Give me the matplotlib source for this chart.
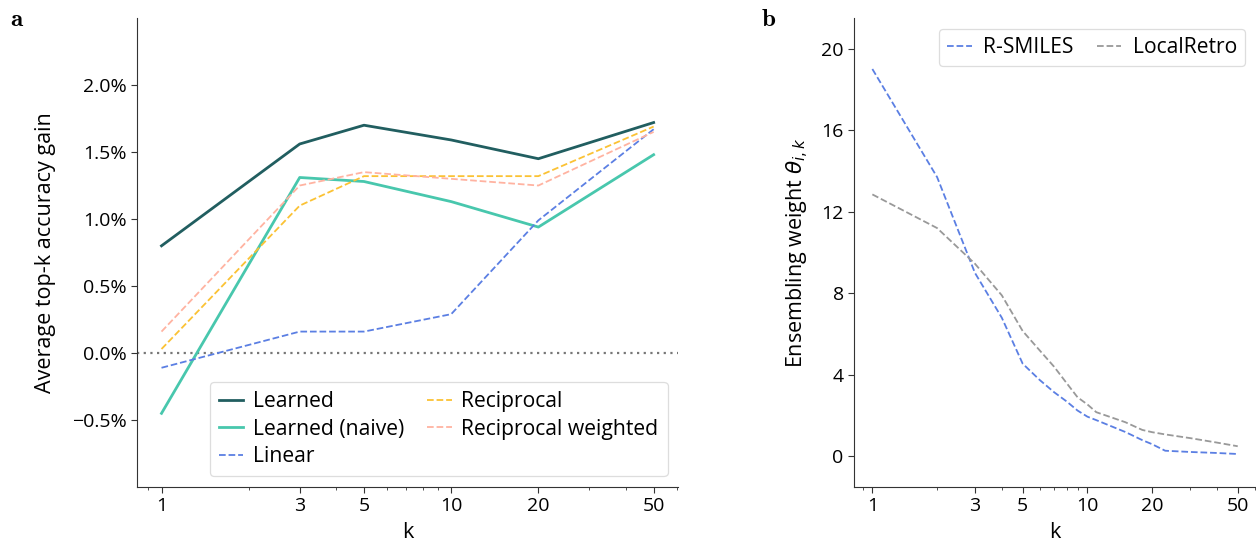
import matplotlib
matplotlib.use("Agg")
import matplotlib.pyplot as plt
from matplotlib.ticker import PercentFormatter, NullFormatter, LogLocator

plt.rcParams['font.family'] = ['Open Sans', 'DejaVu Sans']
plt.rcParams['mathtext.fontset'] = 'dejavusans'

# ---- panel a data ----
k_a = [1, 3, 5, 10, 20, 50]
learned = [0.80, 1.56, 1.70, 1.59, 1.45, 1.72]
learned_naive = [-0.45, 1.31, 1.28, 1.13, 0.94, 1.48]
linear = [-0.11, 0.16, 0.16, 0.29, 0.99, 1.67]
reciprocal = [0.03, 1.10, 1.32, 1.32, 1.32, 1.69]
reciprocal_w = [0.16, 1.25, 1.35, 1.30, 1.25, 1.65]

# ---- panel b data ----
k_b = [1, 2, 3, 4, 5, 6, 7, 8, 9, 10, 11, 15, 18, 20, 23, 30, 40, 50]
rsmiles = [19.0, 13.7, 9.0, 6.8, 4.55, 3.75, 3.15, 2.7, 2.25, 1.95, 1.78, 1.2, 0.8, 0.6, 0.28, 0.22, 0.17, 0.12]
localretro = [12.85, 11.2, 9.45, 7.9, 6.15, 5.2, 4.4, 3.6, 2.9, 2.55, 2.17, 1.68, 1.3, 1.19, 1.08, 0.9, 0.68, 0.5]

xticks = [1, 3, 5, 10, 20, 50]
xticklabels = ['1', '3', '5', '10', '20', '50']
yticks_a = [-0.5, 0.0, 0.5, 1.0, 1.5, 2.0]
yticks_b = [0, 4, 8, 12, 16, 20]

FS_TICK = 14
FS_LAB = 15.5
FS_LEG = 15.2
fig = plt.figure(figsize=(12.56, 5.46), dpi=100)
ax1 = fig.add_axes([0.109, 0.108, 0.431, 0.859])
ax2 = fig.add_axes([0.680, 0.108, 0.320, 0.859])

c_learned = '#215e60'
c_naive = '#48c7ad'
c_linear = '#5b7fe3'
c_recip = '#fbc234'
c_recipw = '#ffb3a1'

ax1.axhline(0, color='#777777', linestyle=(0, (1, 2)), linewidth=1.6, zorder=1)
ax1.plot(k_a, learned, color=c_learned, lw=2.0, label='Learned')
ax1.plot(k_a, learned_naive, color=c_naive, lw=2.0, label='Learned (naive)')
ax1.plot(k_a, linear, color=c_linear, lw=1.3, ls='--', label='Linear')
ax1.plot(k_a, reciprocal, color=c_recip, lw=1.3, ls='--', label='Reciprocal')
ax1.plot(k_a, reciprocal_w, color=c_recipw, lw=1.3, ls='--', label='Reciprocal weighted')

ax2.plot(k_b, rsmiles, color=c_linear, lw=1.3, ls='--', label='R-SMILES')
ax2.plot(k_b, localretro, color='#999999', lw=1.3, ls='--', label='LocalRetro')

for ax in (ax1, ax2):
    ax.set_xscale('log')
    ax.set_xticks(xticks)
    ax.set_xticklabels(xticklabels)
    ax.xaxis.set_minor_locator(LogLocator(base=10, subs=range(2, 10)))
    ax.xaxis.set_minor_formatter(NullFormatter())
    ax.spines['top'].set_visible(False)
    ax.spines['right'].set_visible(False)
    for s in ('left', 'bottom'):
        ax.spines[s].set_color('#333333')
    ax.tick_params(axis='both', which='major', labelsize=FS_TICK, length=4, color='#333333')
    ax.tick_params(axis='x', which='minor', length=2.5, color='#333333')
    ax.set_xlabel('k', fontsize=FS_LAB, labelpad=5)

ax1.set_ylim(-1.0, 2.5)
ax1.set_yticks(yticks_a)
ax1.yaxis.set_major_formatter(PercentFormatter(100, decimals=1))
ax1.set_ylabel('Average top-k accuracy gain', fontsize=FS_LAB, labelpad=11)

ax2.set_ylim(-1.5, 21.5)
ax2.set_yticks(yticks_b)
ax2.set_ylabel(r'Ensembling weight $\theta_{i,k}$', fontsize=FS_LAB, labelpad=7)

leg1 = ax1.legend(loc='lower right', ncol=2, fontsize=FS_LEG, handlelength=1.15,
                  columnspacing=1.1, labelspacing=0.3, borderpad=0.45, handletextpad=0.45,
                  framealpha=1, edgecolor='#dddddd')
leg1.get_frame().set_linewidth(0.9)
leg2 = ax2.legend(loc='upper right', ncol=2, fontsize=FS_LEG, handlelength=1.15,
                  columnspacing=1.1, borderpad=0.4, handletextpad=0.55,
                  framealpha=1, edgecolor='#dddddd')
leg2.get_frame().set_linewidth(0.9)

fig.text(0.008, 0.953, r'$\mathbf{a}$', fontsize=18, math_fontfamily='cm')
fig.text(0.606, 0.953, r'$\mathbf{b}$', fontsize=18, math_fontfamily='cm')

fig.savefig('out.png', dpi=100)
